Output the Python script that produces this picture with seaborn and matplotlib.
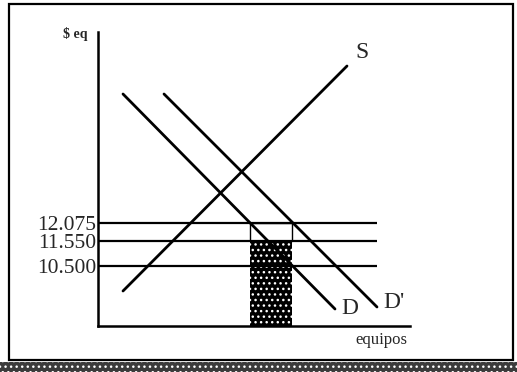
import matplotlib.pyplot as plt
import matplotlib.patches as mpatches
import numpy as np
import pandas as pd
import seaborn as sns

# diagram units (not to scale, as in the original sketch)
curve_names = ["S", "D", "D'"]
curve_q_start = [25, 25, 66]
curve_p_start = [35, 232, 232]
curve_q_end = [249, 237, 279]
curve_p_end = [260, 17, 19]
label_q = [264, 252, 296]
label_p = [273, 18, 24]

price_labels = ["12.075", "11.550", "10.500"]
price_levels = [103, 85, 60]
price_line_end = 279

# shaded area: between D and D' quantities at the highest price
area_q = [152, 194]
area_top = 85
area_cap = 103

curves = pd.DataFrame({
    "curve": np.repeat(curve_names, 2),
    "q": np.ravel(np.column_stack([curve_q_start, curve_q_end])),
    "p": np.ravel(np.column_stack([curve_p_start, curve_p_end])),
})

sns.set_style("white")
plt.rcParams["font.family"] = ["Liberation Serif", "DejaVu Serif"]

fig = plt.figure(figsize=(5.17, 3.72), dpi=100)
ax = fig.add_axes([98 / 517, 46 / 372, 312 / 517, 294 / 372])

# outer frame and scanned bottom strip
fig.patches.append(mpatches.Rectangle((9 / 517, 12 / 372), 504 / 517, 356 / 372,
                                      transform=fig.transFigure, fill=False,
                                      edgecolor="black", linewidth=1.6))
fig.patches.append(mpatches.Rectangle((0, 0), 1, 10 / 372, transform=fig.transFigure,
                                      facecolor="#3c3c3c", edgecolor="white",
                                      hatch="...", linewidth=0))

# shaded rectangle
ax.fill_between(area_q, 0, area_top, color="black", linewidth=0, zorder=2)
ax.fill_between(area_q, 0, area_top, facecolor="none", edgecolor="white",
                hatch="...", linewidth=0, zorder=2)
ax.plot([area_q[0], area_q[0], area_q[1], area_q[1]],
        [area_top, area_cap, area_cap, area_top], color="black", lw=1.0, zorder=3)

ax.hlines(price_levels, 0, price_line_end, color="black", lw=1.6, zorder=3)

sns.lineplot(data=curves, x="q", y="p", units="curve", estimator=None,
             color="black", linewidth=2.0, ax=ax, zorder=4)

for name, q, p in zip(curve_names, label_q, label_p):
    ax.text(q, p, name, ha="center", va="center", fontsize=17)

ax.text(-23, 292, r"\$ eq", ha="center", va="center", fontsize=10,
        fontweight="bold", clip_on=False)
ax.text(283, -14, "equipos", ha="center", va="center", fontsize=12, clip_on=False)

ax.set_xlim(0, 312)
ax.set_ylim(0, 294)
ax.set_xticks([])
ax.set_yticks(price_levels, price_labels)
ax.tick_params(axis="y", length=0, pad=1, labelsize=15.5)
ax.set_xlabel("")
ax.set_ylabel("")
for side in ["top", "right"]:
    ax.spines[side].set_visible(False)
for side in ["left", "bottom"]:
    ax.spines[side].set_color("black")
    ax.spines[side].set_linewidth(1.8)

fig.savefig("out.png", dpi=100)
